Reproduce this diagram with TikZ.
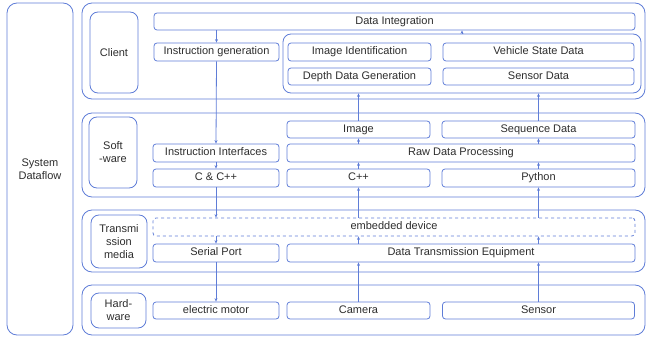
\documentclass[tikz,border=0pt]{standalone}
\usepackage{fontspec}
\setmainfont{Liberation Sans}
\usepackage{tikz}
\usetikzlibrary{arrows.meta,positioning,calc}
\definecolor{lineblue}{RGB}{95,125,215}
\definecolor{txtgray}{RGB}{45,45,45}

\begin{document}
\begin{tikzpicture}[x=1pt,y=-1pt,>={Stealth[length=3.5pt,width=3pt]},
  box/.style={draw=lineblue,line width=0.8pt,rounded corners=3pt,inner sep=0pt,minimum height=18pt,
    text height=8pt,text depth=2.2pt,text=txtgray,font=\fontsize{11}{12}\selectfont},
  layer/.style={draw=lineblue,line width=0.8pt,rounded corners=10pt,inner sep=0pt},
  tag/.style={draw=lineblue,line width=0.8pt,rounded corners=8pt,inner sep=0pt,align=center,
    text=txtgray,font=\fontsize{11}{13}\selectfont},
  flow/.style={->,draw=lineblue,line width=0.8pt}]
  \useasboundingbox (0,0) rectangle (646,337);

  % outer frames
  \node[tag,rounded corners=10pt,minimum width=66pt,minimum height=332pt] (sys) at (40,169) {System\\Dataflow};
  \node[layer,minimum width=563pt,minimum height=96pt] (lclient) at (363.5,51) {};
  \node[layer,minimum width=563pt,minimum height=84pt] (lsoft) at (363.5,155) {};
  \node[layer,minimum width=563pt,minimum height=62pt] (ltrans) at (363.5,241) {};
  \node[layer,minimum width=563pt,minimum height=50pt] (lhard) at (363.5,310) {};

  % layer names
  \node[tag,minimum width=48pt,minimum height=81pt] (tclient) at (114,52.5) {Client};
  \node[tag,minimum width=48pt,minimum height=71pt] (tsoft) at (113,152.5) {Soft\\-ware};
  \node[tag,minimum width=56pt,minimum height=53pt] (ttrans) at (119,241.5) {Transmi\\ssion\\media};
  \node[tag,minimum width=55pt,minimum height=35pt] (thard) at (118.5,310.5) {Hard-\\ware};

  % client
  \node[box,minimum width=481pt,minimum height=17pt] (dintg) at (394.5,21.5) {Data Integration};
  \node[box,minimum width=125pt] (insgen) at (216.5,52) {Instruction generation};
  \node[layer,rounded corners=8pt,minimum width=358pt,minimum height=59pt] (group) at (462,63.5) {};
  \node[box,minimum width=143pt] (imgid) at (359.5,52) {Image Identification};
  \node[box,minimum width=143pt,minimum height=17pt] (depth) at (359.5,76.5) {Depth Data Generation};
  \node[box,minimum width=191pt] (vstate) at (538.5,52) {Vehicle State Data};
  \node[box,minimum width=191pt,minimum height=17pt] (sdata) at (538.5,76.5) {Sensor Data};

  % software
  \node[box,minimum width=143pt,minimum height=17pt] (image) at (358.5,129.5) {Image};
  \node[box,minimum width=193pt,minimum height=17pt] (seq) at (538.5,129.5) {Sequence Data};
  \node[box,minimum width=348pt] (raw) at (461,153) {Raw Data Processing};
  \node[box,minimum width=143pt] (cpp) at (358.5,178) {C++};
  \node[box,minimum width=193pt] (python) at (538.5,178) {Python};
  \node[box,minimum width=126pt] (insint) at (216,153) {Instruction Interfaces};
  \node[box,minimum width=126pt] (ccpp) at (216,178) {C \& C++};

  % transmission media
  \node[box,dashed,minimum width=482pt] (embed) at (394,227) {embedded device};
  \node[box,minimum width=126pt] (serial) at (216,253) {Serial Port};
  \node[box,minimum width=348pt] (dte) at (461,253) {Data Transmission Equipment};

  % hardware
  \node[box,minimum width=126pt,minimum height=17pt] (motor) at (216,310.5) {electric motor};
  \node[box,minimum width=143pt,minimum height=17pt] (camera) at (358.5,310.5) {Camera};
  \node[box,minimum width=192pt,minimum height=17pt] (sensor) at (538.5,310.5) {Sensor};

  % downward flow
  \draw[flow] (dintg.south -| insgen.north) -- (insgen.north);
  \draw[flow] (insgen.south) -- (insint.north);
  \draw[flow] (insint.south) -- (ccpp.north);
  \draw[flow] (ccpp.south) -- (embed.north -| ccpp.south);
  \draw[flow] (embed.south -| serial.north) -- (serial.north);
  \draw[flow] (serial.south) -- (motor.north);

  % upward flow
  \foreach \lo/\hi in {camera/dte,sensor/dte} {
    \draw[flow] (\lo.north) -- (\hi.south -| \lo.north);
  }
  \draw[flow] (dte.north -| camera.north) -- (embed.south -| camera.north);
  \draw[flow] (dte.north -| sensor.north) -- (embed.south -| sensor.north);
  \draw[flow] (embed.north -| cpp.south) -- (cpp.south);
  \draw[flow] (embed.north -| python.south) -- (python.south);
  \draw[flow] (cpp.north) -- (raw.south -| cpp.north);
  \draw[flow] (python.north) -- (raw.south -| python.north);
  \draw[flow] (raw.north -| image.south) -- (image.south);
  \draw[flow] (raw.north -| seq.south) -- (seq.south);
  \draw[flow] (image.north) -- (group.south -| image.north);
  \draw[flow] (seq.north) -- (group.south -| seq.north);
  \draw[flow] (group.north) -- (dintg.south -| group.north);
\end{tikzpicture}
\end{document}
